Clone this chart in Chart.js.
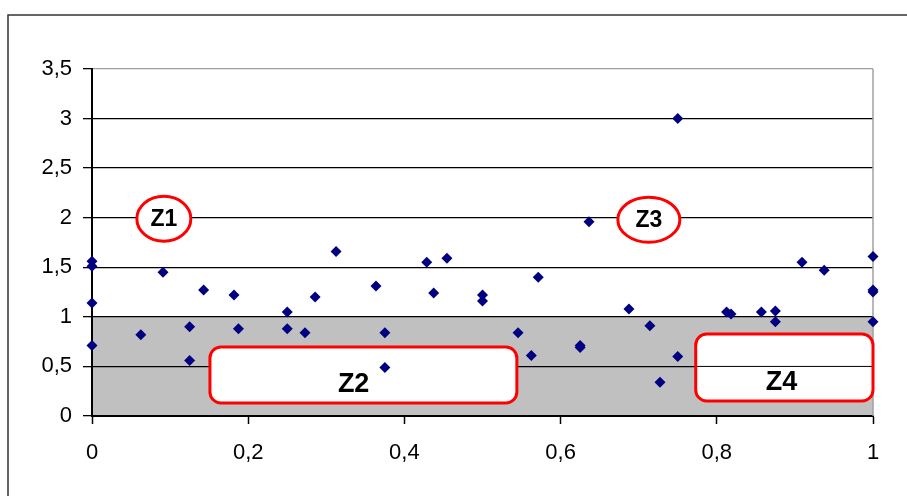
<!DOCTYPE html>
<html lang="fr">
<head>
    <meta charset="UTF-8">
    <title>Zones</title>
    <style>
        body {
            margin: 0;
            background: #ffffff;
        }
        canvas {
            display: block;
        }
    </style>
</head>
<body>
    <canvas id="chart" width="907" height="496"></canvas>

    <script src="https://cdn.jsdelivr.net/npm/chart.js"></script>
    <script>
        // Points
        const xValues = [0, 0, 0, 0, 0.0625, 0.0909, 0.125, 0.125, 0.1429, 0.1818, 0.1875,
            0.25, 0.25, 0.2727, 0.2857, 0.3125, 0.3636, 0.375, 0.375, 0.4286, 0.4375, 0.4545,
            0.5, 0.5, 0.5455, 0.5625, 0.5714, 0.625, 0.625, 0.6364, 0.6875, 0.7143, 0.7273,
            0.75, 0.75, 0.8125, 0.8182, 0.8571, 0.875, 0.875, 0.9091, 0.9375, 1, 1, 1, 1];
        const yValues = [1.56, 1.51, 1.14, 0.71, 0.82, 1.45, 0.9, 0.56, 1.27, 1.22, 0.88,
            1.05, 0.88, 0.84, 1.2, 1.66, 1.31, 0.84, 0.49, 1.55, 1.24, 1.59,
            1.22, 1.16, 0.84, 0.61, 1.4, 0.71, 0.69, 1.96, 1.08, 0.91, 0.34,
            3.0, 0.6, 1.05, 1.03, 1.05, 1.06, 0.95, 1.55, 1.47, 1.61, 1.27, 1.25, 0.95];

        const xTickLabels = ['0', '0,2', '0,4', '0,6', '0,8', '1'];
        const yTickLabels = ['0', '0,5', '1', '1,5', '2', '2,5', '3', '3,5'];

        // Zone labels (data coordinates)
        const ovalLabels = ['Z1', 'Z3'];
        const ovalX = [0.092, 0.713];
        const ovalY = [1.99, 1.98];
        const boxLabels = ['Z2', 'Z4'];
        const boxX0 = [0.151, 0.773];
        const boxX1 = [0.544, 1.0];
        const boxY0 = [0.131, 0.151];
        const boxY1 = [0.696, 0.827];
        const boxTextX = [0.335, 0.883];
        const boxTextY = [0.32, 0.34];
        const shadedFrom = 0;
        const shadedTo = 1;

        const points = xValues.map((x, i) => ({ x: x, y: yValues[i] }));

        const zones = {
            id: 'zones',
            beforeDraw(chart) {
                const ctx = chart.ctx;
                const area = chart.chartArea;
                const y = chart.scales.y;
                ctx.save();
                // outer frame
                ctx.strokeStyle = '#333333';
                ctx.lineWidth = 1.5;
                ctx.beginPath();
                ctx.moveTo(8, 496);
                ctx.lineTo(8, 15);
                ctx.lineTo(907, 15);
                ctx.stroke();
                // grey band
                ctx.fillStyle = '#c0c0c0';
                const top = y.getPixelForValue(shadedTo);
                const bot = y.getPixelForValue(shadedFrom);
                ctx.fillRect(area.left, top, area.right - area.left, bot - top);
                ctx.restore();
            },
            beforeDatasetsDraw(chart) {
                const ctx = chart.ctx;
                const area = chart.chartArea;
                const xs = chart.scales.x;
                const ys = chart.scales.y;
                ctx.save();
                // right border of plot
                ctx.strokeStyle = '#a0a0a0';
                ctx.lineWidth = 1.5;
                ctx.beginPath();
                ctx.moveTo(area.right, area.top);
                ctx.lineTo(area.right, area.bottom);
                ctx.stroke();

                ctx.strokeStyle = '#ff0000';
                ctx.lineWidth = 3;
                ctx.textAlign = 'center';
                ctx.textBaseline = 'middle';
                ctx.fillStyle = '#000000';

                // ovals
                ovalLabels.forEach((lab, i) => {
                    const cx = xs.getPixelForValue(ovalX[i]);
                    const cy = ys.getPixelForValue(ovalY[i]);
                    const rx = i === 0 ? 27 : 31;
                    ctx.beginPath();
                    ctx.ellipse(cx, cy, rx, 22.5, 0, 0, Math.PI * 2);
                    ctx.fillStyle = '#ffffff';
                    ctx.fill();
                    ctx.stroke();
                    ctx.fillStyle = '#000000';
                    ctx.font = 'bold 23px "Liberation Sans", Arial, sans-serif';
                    ctx.fillText(lab, cx, cy + 1);
                });

                // boxes
                boxLabels.forEach((lab, i) => {
                    const l = xs.getPixelForValue(boxX0[i]);
                    const r = xs.getPixelForValue(boxX1[i]);
                    const t = ys.getPixelForValue(boxY1[i]);
                    const b = ys.getPixelForValue(boxY0[i]);
                    ctx.beginPath();
                    ctx.roundRect(l, t, r - l, b - t, 11);
                    ctx.fillStyle = '#ffffff';
                    ctx.fill();
                    if (lab === 'Z4') {
                        // the 0.5 gridline shows through this one
                        const gy = ys.getPixelForValue(0.5);
                        ctx.save();
                        ctx.strokeStyle = '#000000';
                        ctx.lineWidth = 1;
                        ctx.beginPath();
                        ctx.moveTo(l, gy);
                        ctx.lineTo(r, gy);
                        ctx.stroke();
                        ctx.restore();
                        ctx.beginPath();
                        ctx.roundRect(l, t, r - l, b - t, 11);
                    }
                    ctx.stroke();
                    ctx.fillStyle = '#000000';
                    ctx.font = 'bold 27px "Liberation Sans", Arial, sans-serif';
                    ctx.fillText(lab, xs.getPixelForValue(boxTextX[i]), ys.getPixelForValue(boxTextY[i]));
                });
                ctx.restore();
            }
        };

        const labelFont = { family: '"Liberation Sans", Arial, sans-serif', size: 22 };

        new Chart(document.getElementById('chart'), {
            type: 'scatter',
            data: {
                datasets: [{
                    data: points,
                    pointStyle: 'rectRot',
                    pointRadius: 5.5,
                    backgroundColor: '#000080',
                    borderColor: '#000080',
                    borderWidth: 0,
                    clip: false
                }]
            },
            options: {
                responsive: false,
                animation: false,
                layout: {
                    padding: { left: 0, top: 69, right: 34, bottom: 0 }
                },
                plugins: {
                    legend: { display: false },
                    tooltip: { enabled: false }
                },
                scales: {
                    x: {
                        type: 'linear',
                        min: 0,
                        max: 1,
                        afterFit: (scale) => { scale.height = 80; },
                        ticks: {
                            stepSize: 0.2,
                            color: '#000000',
                            font: labelFont,
                            padding: 16,
                            maxRotation: 0,
                            callback: (v, i) => xTickLabels[i]
                        },
                        grid: {
                            drawOnChartArea: false,
                            tickLength: 8,
                            tickColor: '#000000',
                            tickWidth: 1.5
                        },
                        border: { color: '#000000', width: 2 }
                    },
                    y: {
                        min: 0,
                        max: 3.5,
                        afterFit: (scale) => { scale.width = 92; },
                        ticks: {
                            stepSize: 0.5,
                            color: '#000000',
                            font: labelFont,
                            padding: 11,
                            callback: (v, i) => yTickLabels[i]
                        },
                        grid: {
                            color: (c) => c.tick && c.tick.value === 3.5 ? '#a0a0a0' : '#000000',
                            lineWidth: 1.3,
                            tickLength: 9,
                            tickColor: '#000000'
                        },
                        border: { color: '#000000', width: 2 }
                    }
                }
            },
            plugins: [zones]
        });
    </script>
</body>
</html>
